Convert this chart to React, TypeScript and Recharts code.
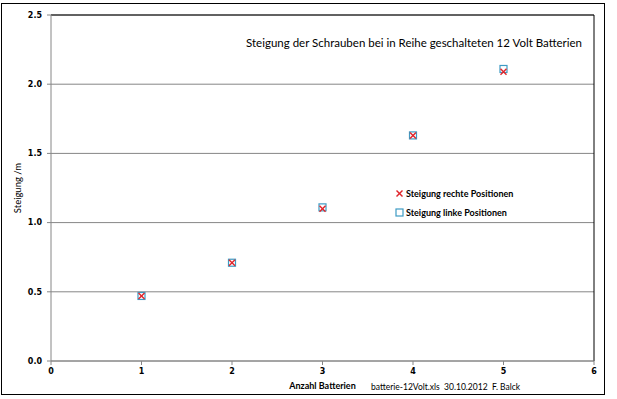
import React from 'react'
import {
  ScatterChart,
  Scatter,
  XAxis,
  YAxis,
  CartesianGrid,
  ReferenceLine,
} from 'recharts'

// ─── Data ─────────────────────────────────────────────────────────────────────

const BATTERIES = [1, 2, 3, 4, 5]
const RIGHT_POS = [0.47, 0.71, 1.1, 1.63, 2.09]
const LEFT_POS = [0.47, 0.71, 1.11, 1.63, 2.11]
const X_TICKS = [0, 1, 2, 3, 4, 5, 6]
const Y_TICKS = [0, 0.5, 1.0, 1.5, 2.0, 2.5]

const TITLE = 'Steigung der Schrauben bei in Reihe geschalteten 12 Volt Batterien'
const FOOTNOTE = 'batterie-12Volt.xls  30.10.2012  F. Balck'

const rightData = BATTERIES.map((x, i) => ({ x, y: RIGHT_POS[i] }))
const leftData = BATTERIES.map((x, i) => ({ x, y: LEFT_POS[i] }))

// ─── Styles ───────────────────────────────────────────────────────────────────

const RED = '#E0252B'
const BLUE = '#3E9BC4'
const GRID = '#868686'
const TICK_STYLE = { fontSize: 8, fontWeight: 700, fill: '#000', fontFamily: 'DejaVu Sans' }

// ─── Markers ──────────────────────────────────────────────────────────────────

function CrossMark({ cx, cy }: { cx?: number; cy?: number }) {
  if (cx == null || cy == null) return null
  const r = 3
  return (
    <g>
      <line x1={cx - r} y1={cy - r} x2={cx + r} y2={cy + r} stroke={RED} strokeWidth={1.4} />
      <line x1={cx - r} y1={cy + r} x2={cx + r} y2={cy - r} stroke={RED} strokeWidth={1.4} />
    </g>
  )
}

function SquareMark({ cx, cy }: { cx?: number; cy?: number }) {
  if (cx == null || cy == null) return null
  const r = 3.5
  return <rect x={cx - r} y={cy - r} width={r * 2} height={r * 2} fill="none" stroke={BLUE} strokeWidth={1.2} />
}

function LegendBox() {
  const row = { display: 'flex', alignItems: 'center', gap: 2, height: 19 }
  return (
    <div style={{ fontFamily: 'Lato', fontWeight: 700, fontSize: 9, color: '#000' }}>
      <div style={row}>
        <svg width={9} height={9}>
          <CrossMark cx={4.5} cy={4.5} />
        </svg>
        <span>Steigung rechte Positionen</span>
      </div>
      <div style={row}>
        <svg width={9} height={9}>
          <SquareMark cx={4.5} cy={4.5} />
        </svg>
        <span>Steigung linke Positionen</span>
      </div>
    </div>
  )
}

// ─── Component ────────────────────────────────────────────────────────────────

export default function App() {
  return (
    <div style={{ position: 'absolute', left: 0, top: 0, width: 617, height: 399, background: '#fff' }}>
      <div
        style={{
          position: 'absolute',
          left: 1,
          top: 3,
          width: 602,
          height: 390,
          border: '1.5px solid #000',
        }}
      />
      <ScatterChart width={617} height={399} margin={{ top: 15, right: 23, bottom: 8, left: 11 }}>
        <CartesianGrid horizontal vertical={false} stroke={GRID} strokeWidth={1} />
        <XAxis
          type="number"
          dataKey="x"
          domain={[0, 6]}
          ticks={X_TICKS}
          tick={TICK_STYLE}
          tickSize={4}
          tickMargin={3}
          stroke={GRID}
          height={30}
          label={{
            value: 'Anzahl Batterien',
            position: 'insideBottom',
            offset: 2,
            style: { fontFamily: 'Lato', fontWeight: 700, fontSize: 9, fill: '#000' },
          }}
        />
        <YAxis
          type="number"
          dataKey="y"
          domain={[0, 2.5]}
          ticks={Y_TICKS}
          tickFormatter={(v: number) => v.toFixed(1)}
          tick={TICK_STYLE}
          tickSize={4}
          tickMargin={5}
          stroke={GRID}
          width={40}
          label={{
            value: 'Steigung /m',
            angle: -90,
            position: 'insideLeft',
            offset: 7,
            style: { fontFamily: 'Lato', fontSize: 9.5, fill: '#000', textAnchor: 'middle' },
          }}
        />
        <ReferenceLine y={2.5} stroke="#000" strokeWidth={1} />
        <ReferenceLine x={6} stroke="#000" strokeWidth={1} />
        <Scatter name="Steigung linke Positionen" data={leftData} shape={<SquareMark />} isAnimationActive={false} />
        <Scatter name="Steigung rechte Positionen" data={rightData} shape={<CrossMark />} isAnimationActive={false} />
      </ScatterChart>
      <div style={{ position: 'absolute', left: 395, top: 184, width: 140 }}>
        <LegendBox />
      </div>
      <div
        style={{
          position: 'absolute',
          left: 246,
          top: 36,
          fontFamily: 'Lato',
          fontSize: 11.5,
          color: '#000',
          whiteSpace: 'nowrap',
        }}
      >
        {TITLE}
      </div>
      <div
        style={{
          position: 'absolute',
          left: 371,
          top: 382,
          fontFamily: 'Lato',
          fontSize: 8.5,
          color: '#000',
          whiteSpace: 'pre',
        }}
      >
        {FOOTNOTE}
      </div>
    </div>
  )
}
